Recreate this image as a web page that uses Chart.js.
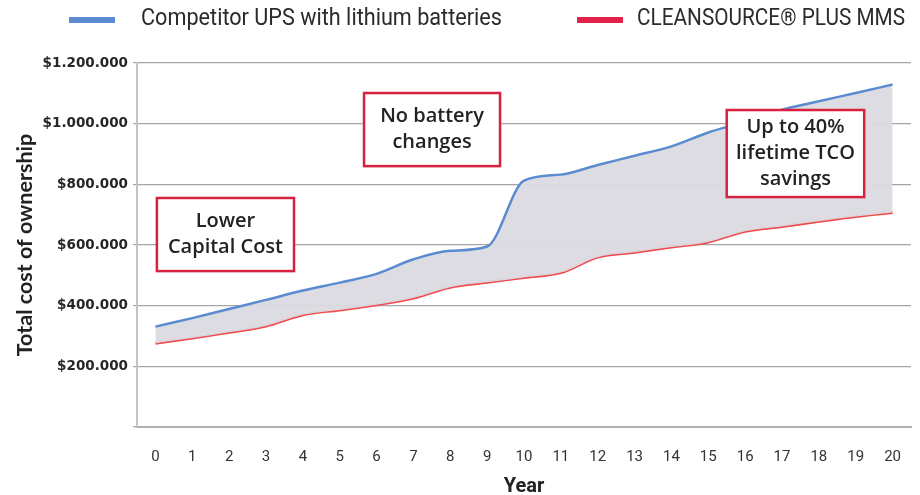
<!DOCTYPE html>
<html>
<head>
<meta charset="utf-8">
<script src="https://cdn.jsdelivr.net/npm/chart.js@4/dist/chart.umd.min.js"></script>
<style>
html,body{margin:0;padding:0;background:#fff;}
#wrap{width:920px;height:495px;position:relative;}
</style>
</head>
<body>
<div id="wrap"><canvas id="chart" width="920" height="495"></canvas></div>
<script>
// chart data
const years = ["0","1","2","3","4","5","6","7","8","9","10","11","12","13","14","15","16","17","18","19","20"]
const competitor = [331000,359000,389000,419000,450000,476000,505000,553000,581000,595000,812000,832000,864000,894000,925000,971000,1006000,1046000,1074000,1101000,1129000]
const cleansource = [276000,293000,312000,333000,370000,386000,403000,425000,461000,477000,493000,509000,560000,576000,593000,610000,645000,661000,678000,694000,707000]
const yTicks = [0,200000,400000,600000,800000,1000000,1200000]

const seriesNames = ["Competitor UPS with lithium batteries","CLEANSOURCE® PLUS MMS"]

// callout boxes, corners in chart units (year, $)
const callouts = [
{x0:0.04, x1:3.76, y0:755000, y1:514000, lines:["Lower","Capital Cost"]},
{x0:5.66, x1:9.35, y0:1101000, y1:860000, lines:["No battery","changes"]},
{x0:15.5, x1:19.23, y0:1045000, y1:758000, lines:["Up to 40%","lifetime TCO","savings"]}
]

function money(v){
return "$" + String(v).replace(/\B(?=(\d{3})+(?!\d))/g, ".")
}

// legend drawn by hand (condensed look via maxWidth)
const legendPlugin = {
id:"topLegend",
afterDraw(c){
const ctx = c.ctx
const items = [
{color:"#5b8bd0", box:69, text:141, w:361},
{color:"#e0224b", box:577, text:637, w:268}
]
ctx.save()
ctx.font = "23px Roboto"
ctx.textBaseline = "middle"
items.forEach((it,i)=>{
ctx.fillStyle = it.color
ctx.fillRect(it.box,17,46,6)
ctx.fillStyle = "#2b2b2b"
ctx.fillText(seriesNames[i], it.text, 19, it.w)
})
ctx.restore()
}
}

// callouts
const calloutPlugin = {
id:"callouts",
afterDatasetsDraw(c){
const ctx = c.ctx
const xs = c.scales.x
const ys = c.scales.y
const step = xs.getPixelForValue(1) - xs.getPixelForValue(0)
ctx.save()
callouts.forEach(b=>{
const left = xs.getPixelForValue(0) + b.x0*step
const right = xs.getPixelForValue(0) + b.x1*step
const top = ys.getPixelForValue(b.y0)
const bottom = ys.getPixelForValue(b.y1)
ctx.fillStyle = "#fff"
ctx.fillRect(left,top,right-left,bottom-top)
ctx.strokeStyle = "#d8213f"
ctx.lineWidth = 2.5
ctx.strokeRect(left,top,right-left,bottom-top)
ctx.fillStyle = "#222"
ctx.font = "600 20px 'Open Sans'"
ctx.textAlign = "center"
ctx.textBaseline = "middle"
const lh = 26
const cx = (left+right)/2
const cy = (top+bottom)/2
b.lines.forEach((t,i)=>{
ctx.fillText(t, cx, cy + (i-(b.lines.length-1)/2)*lh)
})
})
ctx.restore()
}
}

const ctx = document.getElementById("chart")

const chart = new Chart(ctx,{
type:"line",
data:{
labels:years,
datasets:[
{
label:seriesNames[0],
data:competitor,
borderColor:"#5a8bd0",
backgroundColor:"rgba(220,218,225,0.95)",
borderWidth:2.5,
pointRadius:0,
cubicInterpolationMode:"monotone",
fill:"+1",
order:1
},
{
label:seriesNames[1],
data:cleansource,
borderColor:"#ef4a4c",
borderWidth:3,
pointRadius:0,
cubicInterpolationMode:"monotone",
fill:false,
order:2
}
]
},
options:{
responsive:false,
animation:false,
layout:{padding:{top:63,right:9,left:0,bottom:0}},
plugins:{
legend:{display:false},
tooltip:{enabled:false}
},
scales:{
x:{
offset:true,
grid:{display:false},
border:{display:true,color:"#b0b0b0",width:2},
ticks:{
color:"#333",
font:{family:"Roboto",size:15},
padding:13,
maxRotation:0
},
title:{
display:true,
text:"Year",
color:"#222",
font:{family:"Roboto",size:20,weight:"bold",lineHeight:0.8},
padding:{top:0,bottom:0}
},
afterFit(s){ s.height = 68 }
},
y:{
min:0,
max:1200000,
afterBuildTicks(s){ s.ticks = yTicks.map(v=>({value:v})) },
grid:{color:"#a6a6a6",lineWidth:1.2,tickLength:4},
border:{display:true,color:"#c4c4c4",width:2},
ticks:{
color:"#262626",
font:{family:"'DejaVu Sans'",size:13.5,weight:"bold"},
padding:5,
callback:(v)=> v === 0 ? "" : money(v)
},
title:{
display:true,
text:"Total cost of ownership",
color:"#222",
font:{family:"Lato",size:21.5,weight:"bold",lineHeight:1.2},
padding:{top:12,bottom:0}
},
afterFit(s){ s.width = 137 }
}
}
},
plugins:[legendPlugin,calloutPlugin]
})
</script>
</body>
</html>
